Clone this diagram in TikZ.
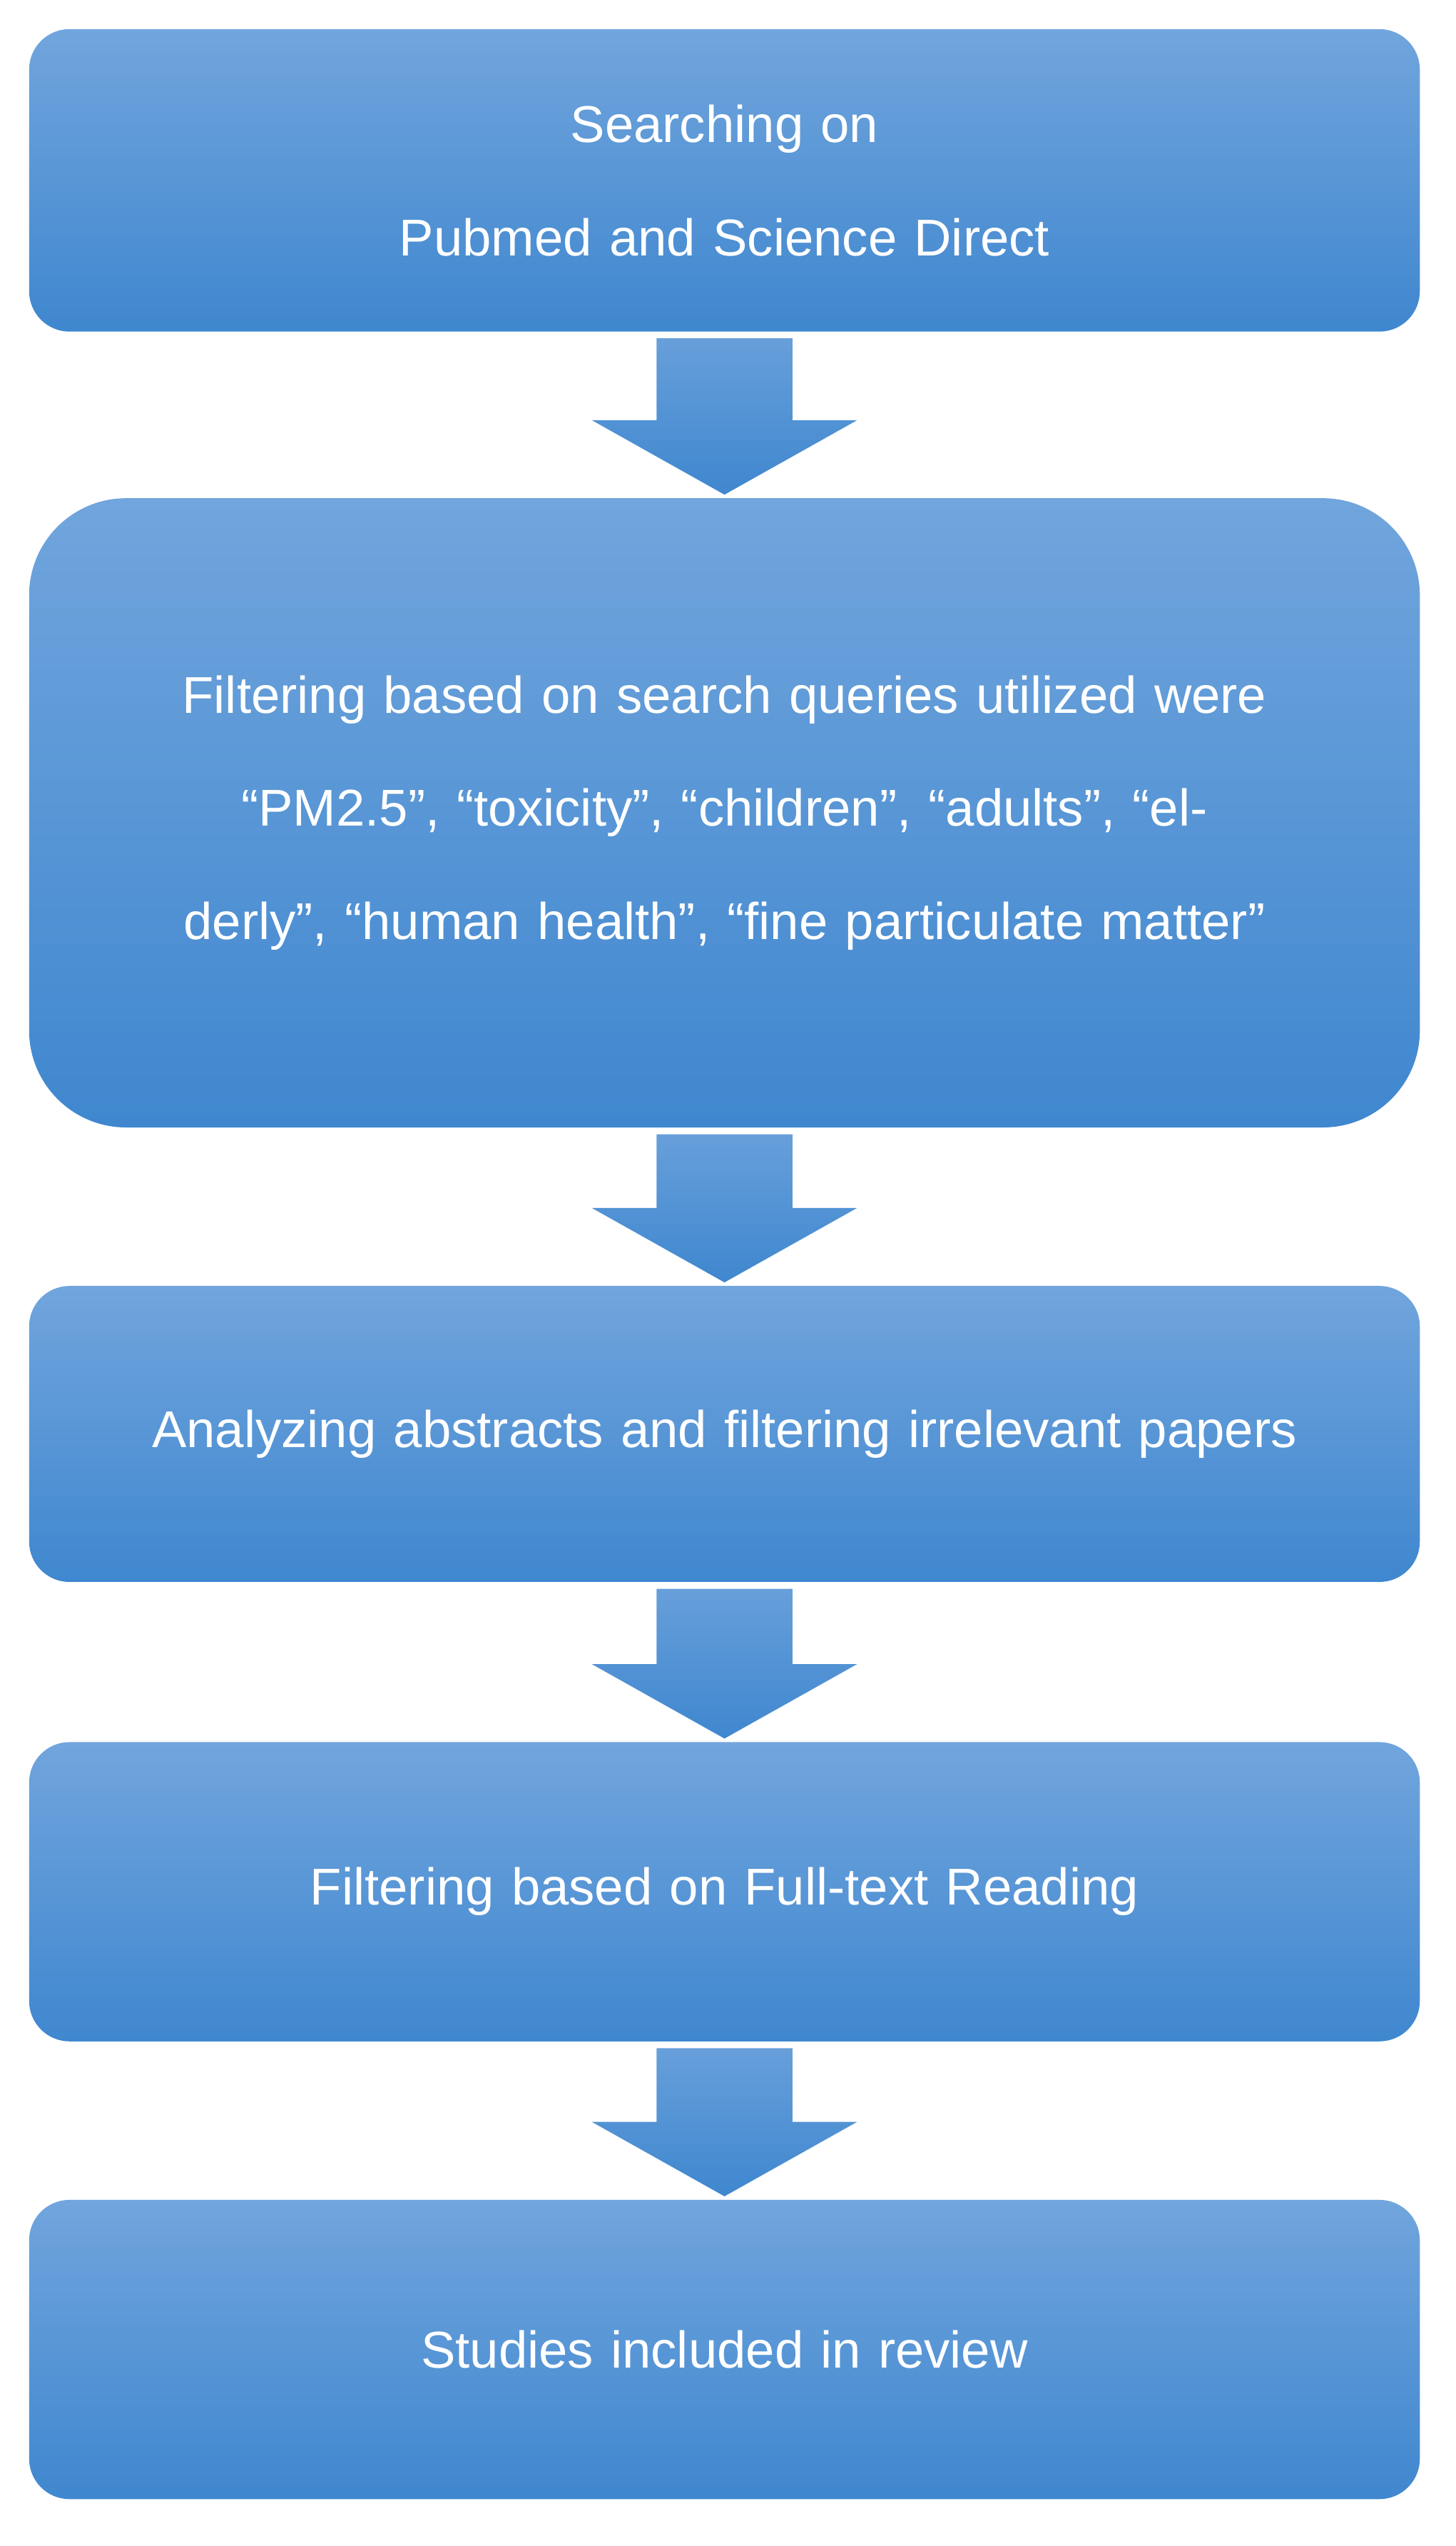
\documentclass[tikz,border=0pt]{standalone}
\usepackage{fontspec}
\setmainfont{Liberation Sans}
\usetikzlibrary{calc}
\definecolor{toph}{HTML}{71A5DD}
\definecolor{both}{HTML}{3F87CF}
\tikzset{
 flowbox/.style={rectangle, rounded corners=25pt, top color=toph, bottom color=both, draw=none,
   minimum width=860pt, text width=800pt, align=center, text=white,
   font=\fontsize{32}{70}\selectfont},
 fatarrow/.style={top color=toph!80!both, bottom color=both, draw=none}
}
\newcommand{\fatarr}[2]{%
 \path[fatarrow] ($(#1.south)+(-42pt,-4pt)$) -- ($(#1.south)+(42pt,-4pt)$) -- ($(#2.north)+(42pt,48pt)$) -- ($(#2.north)+(82pt,48pt)$) -- ($(#2.north)+(0pt,2pt)$) -- ($(#2.north)+(-82pt,48pt)$) -- ($(#2.north)+(-42pt,48pt)$) -- cycle;}
\begin{document}
\begin{tikzpicture}[x=1pt,y=-1pt]
\useasboundingbox (0,0) rectangle (900,1574);
\node[flowbox, minimum height=187pt] (b1) at (448,111.5) {Searching on\\Pubmed and Science Direct};
\node[flowbox, minimum height=389pt, rounded corners=60pt] (b2) at (448,502.5) {Filtering based on search queries utilized were “PM2.5”, “toxicity”, “children”, “adults”, “elderly”, “human health”, “fine particulate matter”};
\node[flowbox, minimum height=183pt] (b3) at (448,886.5) {Analyzing abstracts and filtering irrelevant papers};
\node[flowbox, minimum height=185pt] (b4) at (448,1169.5) {Filtering based on Full-text Reading};
\node[flowbox, minimum height=185pt] (b5) at (448,1452.5) {Studies included in review};
\fatarr{b1}{b2}
\fatarr{b2}{b3}
\fatarr{b3}{b4}
\fatarr{b4}{b5}
\end{tikzpicture}
\end{document}
